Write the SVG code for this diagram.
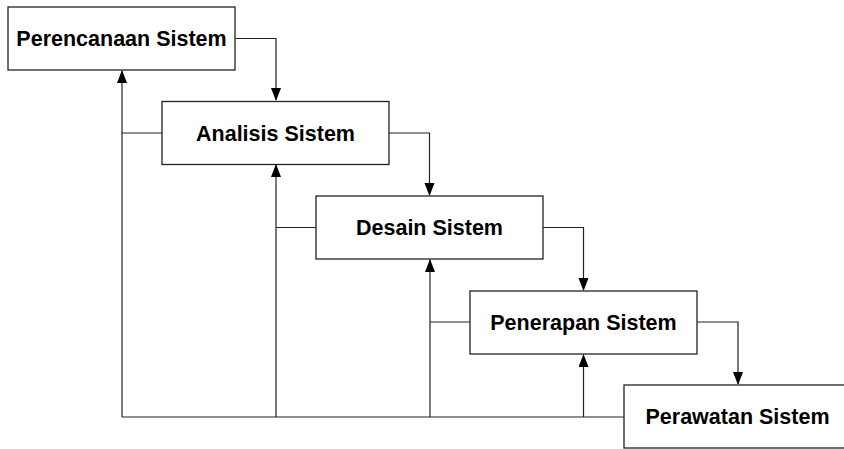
<svg xmlns="http://www.w3.org/2000/svg" width="844" height="449" viewBox="0 0 844 449">
<style>
.box{fill:#fff;stroke:#222;stroke-width:1.3}
.lbl{font-family:"Liberation Sans",Arial,sans-serif;font-weight:bold;font-size:21.5px;fill:#000;text-anchor:middle}
.ln{fill:none;stroke:#222;stroke-width:1.2}
</style>
<defs>
<marker id="ah" markerWidth="14" markerHeight="12" refX="12" refY="5" orient="auto" markerUnits="userSpaceOnUse">
<path d="M0,0 L13,5 L0,10 Z" fill="#000"/>
</marker>
</defs>
<g id="connectors">
<path class="ln" d="M235,38.5 H276 V100" marker-end="url(#ah)"/>
<path class="ln" d="M389,133 H429.5 V195" marker-end="url(#ah)"/>
<path class="ln" d="M543,227.5 H583.5 V290" marker-end="url(#ah)"/>
<path class="ln" d="M697,322 H738 V384" marker-end="url(#ah)"/>
<path class="ln" d="M624,417 H122"/>
<path class="ln" d="M122,417 V71" marker-end="url(#ah)"/>
<path class="ln" d="M276,417 V165" marker-end="url(#ah)"/>
<path class="ln" d="M430,417 V260" marker-end="url(#ah)"/>
<path class="ln" d="M583.5,417 V355" marker-end="url(#ah)"/>
<path class="ln" d="M122,133 H162"/>
<path class="ln" d="M276,227.5 H316"/>
<path class="ln" d="M430,322 H470"/>
</g>
<g id="n1"><rect class="box" x="8" y="7" width="227" height="63"/><text class="lbl" x="121.5" y="46">Perencanaan Sistem</text></g>
<g id="n2"><rect class="box" x="162" y="101.5" width="227" height="63"/><text class="lbl" x="275.5" y="140.5">Analisis Sistem</text></g>
<g id="n3"><rect class="box" x="316" y="196" width="227" height="63"/><text class="lbl" x="429.5" y="235">Desain Sistem</text></g>
<g id="n4"><rect class="box" x="470" y="291" width="227" height="63"/><text class="lbl" x="583.5" y="330">Penerapan Sistem</text></g>
<g id="n5"><rect class="box" x="624" y="385" width="227" height="63"/><text class="lbl" x="737.5" y="424">Perawatan Sistem</text></g>
</svg>
